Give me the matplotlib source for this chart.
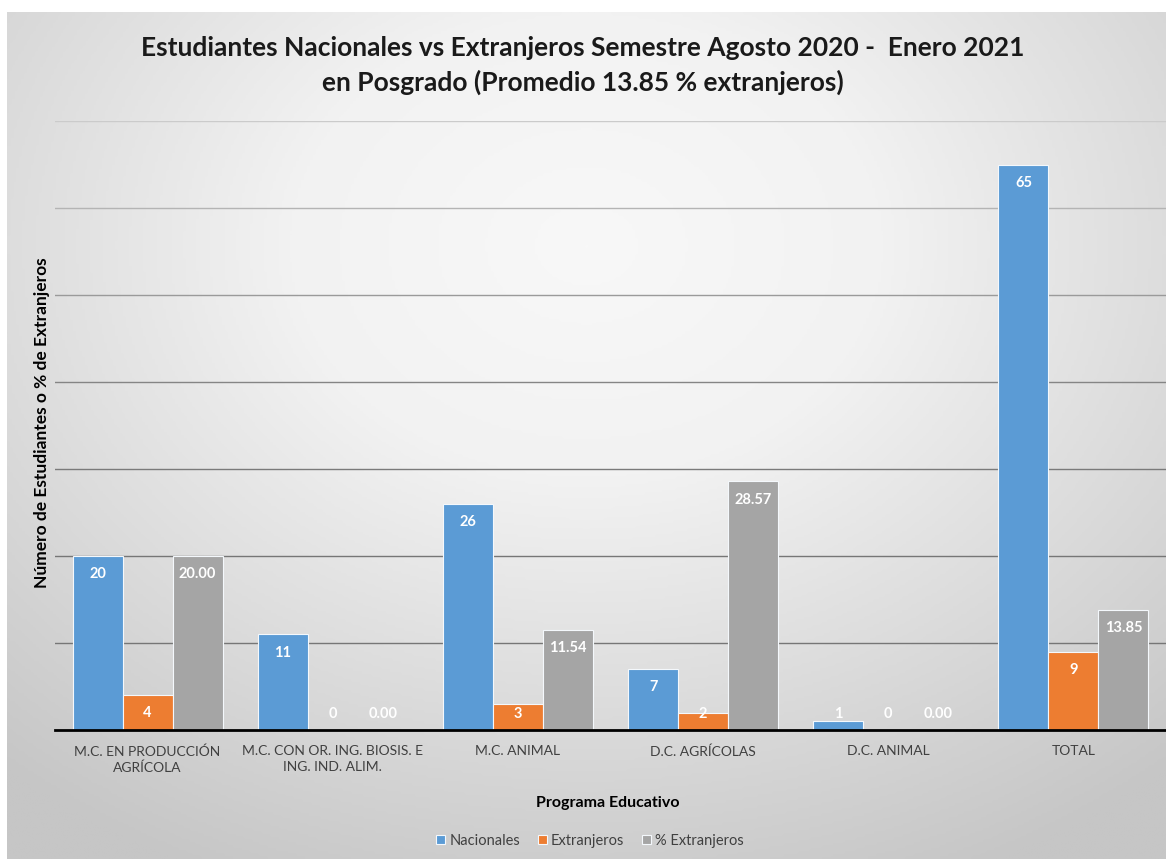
import numpy as np
import matplotlib
matplotlib.use("Agg")
import matplotlib.pyplot as plt
from matplotlib.colors import LinearSegmentedColormap

# datos del grafico
programas = ["M.C. EN PRODUCCIÓN\nAGRÍCOLA", "M.C. CON OR. ING. BIOSIS. E\nING. IND. ALIM.",
             "M.C. ANIMAL", "D.C. AGRÍCOLAS", "D.C. ANIMAL", "TOTAL"]
nacionales = [20, 11, 26, 7, 1, 65]
extranjeros = [4, 0, 3, 2, 0, 9]
pct_extranjeros = [20.00, 0.00, 11.54, 28.57, 0.00, 13.85]

plt.rcParams['font.family'] = ['Lato', 'DejaVu Sans']

W, H = 1166, 859
fig = plt.figure(figsize=(W / 100, H / 100), dpi=100)

# fondo con degradado radial (claro arriba al centro, gris en las esquinas)
bg = fig.add_axes([7 / W, 0, 1 - 7 / W, 1 - 12 / H])
yy, xx = np.mgrid[-1:1:300j, -1:1:400j]
r = np.sqrt((xx * 0.75) ** 2 + ((yy + 0.45) * 0.7) ** 2)
gris = LinearSegmentedColormap.from_list('gris', ['#f8f8f8', '#f2f2f2', '#dcdcdc', '#c6c6c6'])
bg.imshow(r, cmap=gris, vmin=0, vmax=1.15, aspect='auto', extent=[0, 1, 0, 1])
bg.axis('off')

ax = fig.add_axes([55 / W, 1 - 730 / H, 1 - 55 / W, (730 - 121) / H])
ax.patch.set_alpha(0)

x = np.arange(len(programas))
w = 0.27
colores = ['#5b9bd5', '#ed7d31', '#a5a5a5']
series = [nacionales, extranjeros, pct_extranjeros]
nombres = ['Nacionales', 'Extranjeros', '% Extranjeros']

for i, (vals, c, n) in enumerate(zip(series, colores, nombres)):
    pos = x + (i - 1) * w
    ax.bar(pos, vals, w, color=c, edgecolor='#f4f8fc', linewidth=0.8, label=n, zorder=3)
    for p, v in zip(pos, vals):
        txt = f"{v:.2f}" if i == 2 else f"{v}"
        ax.text(p, max(v - 2.1, 1.8), txt, ha='center', va='center', color='white',
                fontsize=10.5, fontweight='bold', zorder=4)

ax.set_ylim(0, 70)
ax.set_xlim(-0.5, len(programas) - 0.5)
ax.set_yticks([10, 20, 30, 40, 50, 60, 70])
ax.yaxis.grid(True, linewidth=1.0, zorder=0)
# las lineas de arriba se ven mas claras por el degradado
tonos = ['#767676', '#767676', '#7a7a7a', '#858585', '#9a9a9a', '#b4b4b4', '#cbcbcb']
for gl, t in zip(ax.get_ygridlines(), tonos):
    gl.set_color(t)
ax.tick_params(axis='y', left=False, labelleft=False)
ax.tick_params(axis='x', length=0, pad=11, labelsize=10, labelcolor='#404040')
ax.set_xticks(x)
ax.set_xticklabels(programas, linespacing=1.35)
for s in ['top', 'right', 'left']:
    ax.spines[s].set_visible(False)
ax.spines['bottom'].set_color('black')
ax.spines['bottom'].set_linewidth(2)
ax.spines['bottom'].set_zorder(5)

ax.set_xlabel("Programa Educativo", fontsize=11.5, fontweight='bold')
ax.xaxis.set_label_coords((608 - 55) / (W - 55), -(796 - 730) / (730 - 121))
fig.text(42 / W, 1 - 423 / H, "Número de Estudiantes o % de Extranjeros", rotation=90,
         ha='center', va='center', fontsize=12.5, fontweight='bold')

fig.text(583 / W, 1 - 48 / H, "Estudiantes Nacionales vs Extranjeros Semestre Agosto 2020 -  Enero 2021",
         ha='center', va='center', fontsize=19, fontweight='bold', color='#1a1a1a')
fig.text(583 / W, 1 - 82 / H, "en Posgrado (Promedio 13.85 % extranjeros)",
         ha='center', va='center', fontsize=19, fontweight='bold', color='#1a1a1a')

fig.legend(loc='center', bbox_to_anchor=(590 / W, 1 - 841 / H), ncol=3, frameon=False,
           fontsize=10.5, handlelength=0.6, handleheight=0.6, columnspacing=1.2,
           handletextpad=0.3, labelcolor='#404040')

fig.savefig("out.png", dpi=100)
